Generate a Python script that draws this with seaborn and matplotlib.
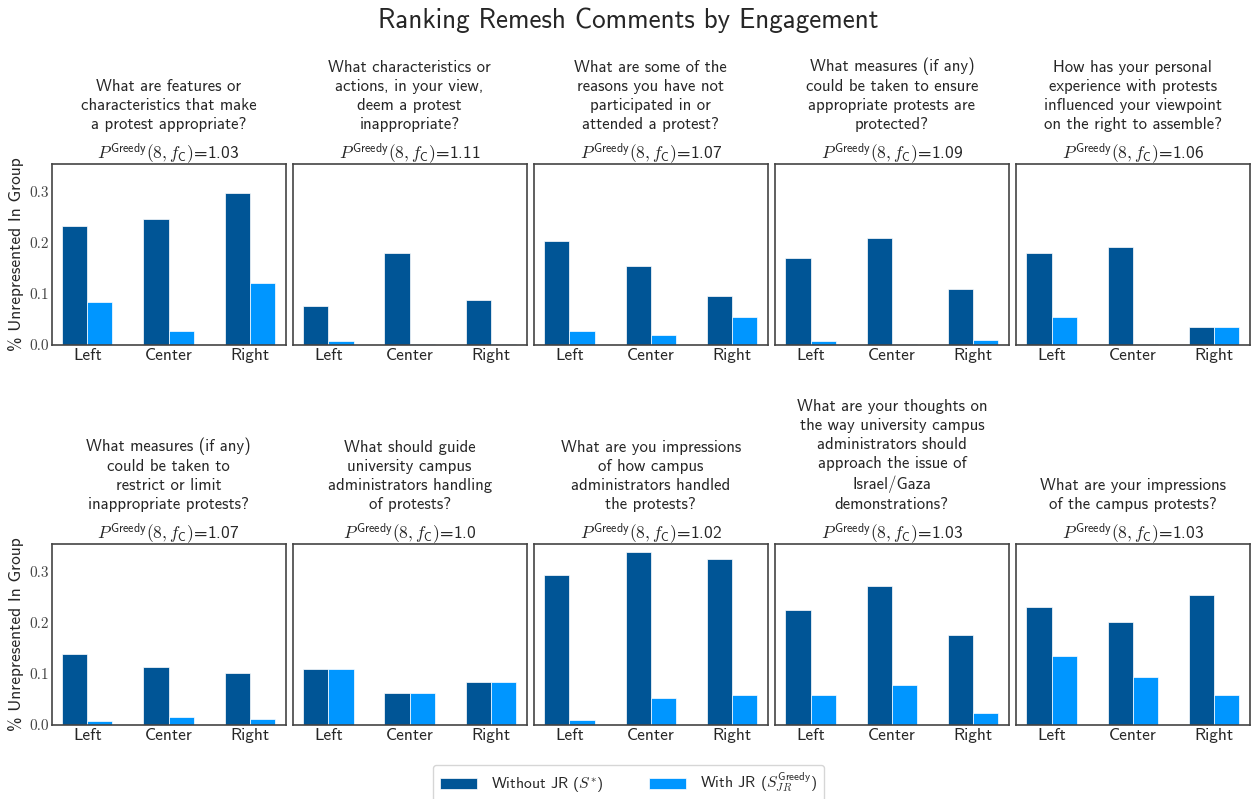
import numpy as np
import pandas as pd
import matplotlib
matplotlib.use("Agg")
import matplotlib.pyplot as plt
import seaborn as sns

sns.set_theme(style="white")
plt.rcParams['font.family'] = ['cmss10', 'DejaVu Sans']
plt.rcParams['mathtext.fontset'] = 'cm'
plt.rcParams['axes.unicode_minus'] = False

# data
categories = ['Left', 'Center', 'Right']
series_names = ['Without JR ($S^{*}$)', r'With JR ($S_{JR}^{\mathsf{Greedy}}$)']
questions = [
    "What are features or\ncharacteristics that make\na protest appropriate?",
    "What characteristics or\nactions, in your view,\ndeem a protest\ninappropriate?",
    "What are some of the\nreasons you have not\nparticipated in or\nattended a protest?",
    "What measures (if any)\ncould be taken to ensure\nappropriate protests are\nprotected?",
    "How has your personal\nexperience with protests\ninfluenced your viewpoint\non the right to assemble?",
    "What measures (if any)\ncould be taken to\nrestrict or limit\ninappropriate protests?",
    "What should guide\nuniversity campus\nadministrators handling\nof protests?",
    "What are you impressions\nof how campus\nadministrators handled\nthe protests?",
    "What are your thoughts on\nthe way university campus\nadministrators should\napproach the issue of\nIsrael/Gaza\ndemonstrations?",
    "What are your impressions\nof the campus protests?",
]
p_greedy = ['1.03', '1.11', '1.07', '1.09', '1.06', '1.07', '1.0', '1.02', '1.03', '1.03']
without_jr = [
    [0.232, 0.245, 0.296],
    [0.076, 0.180, 0.088],
    [0.202, 0.155, 0.096],
    [0.169, 0.208, 0.110],
    [0.180, 0.192, 0.035],
    [0.139, 0.114, 0.102],
    [0.110, 0.063, 0.084],
    [0.292, 0.337, 0.324],
    [0.224, 0.271, 0.176],
    [0.231, 0.200, 0.253],
]
with_jr = [
    [0.084, 0.028, 0.120],
    [0.008, 0.001, 0.001],
    [0.027, 0.020, 0.055],
    [0.008, 0.001, 0.010],
    [0.055, 0.001, 0.035],
    [0.008, 0.016, 0.012],
    [0.110, 0.063, 0.084],
    [0.010, 0.053, 0.059],
    [0.059, 0.078, 0.024],
    [0.135, 0.094, 0.059],
]
yticks = [0.0, 0.1, 0.2, 0.3]
colors = {series_names[0]: '#005596', series_names[1]: '#0096FF'}

fig, axes = plt.subplots(2, 5, figsize=(12.57, 7.99), dpi=100, sharey=True)
fig.subplots_adjust(left=0.041, right=0.9944, top=0.7947, bottom=0.0926,
                    wspace=0.03, hspace=1.10)

for i, ax in enumerate(axes.flat):
    df = pd.DataFrame({
        'group': categories * 2,
        'value': without_jr[i] + with_jr[i],
        'series': [series_names[0]] * 3 + [series_names[1]] * 3,
    })
    sns.barplot(data=df, x='group', y='value', hue='series', order=categories,
                hue_order=series_names, palette=colors, width=0.62, saturation=1,
                edgecolor='white', linewidth=0.5, ax=ax)
    ax.legend_.remove()
    ax.set_xlim(-0.44, 2.44)
    ax.set_ylim(0, 0.353)
    ax.set_xlabel('')
    ax.set_ylabel('')
    ax.tick_params(axis='x', labelsize=12.5, pad=2.5, length=0)
    ax.tick_params(axis='y', labelsize=11, pad=2, length=0)
    for s in ax.spines.values():
        s.set_color('#444444')
        s.set_linewidth(1.2)
    # P^Greedy line as the title, question text stacked above it
    ax.set_title(r'$P^{\mathsf{Greedy}}(8, f_{\mathsf{C}})$=' + p_greedy[i],
                 fontsize=12.5, pad=4)
    ax.annotate(questions[i], xy=(0.5, 1.0), xycoords='axes fraction',
                xytext=(0, 23), textcoords='offset points', ha='center',
                va='bottom', fontsize=12, linespacing=1.33)

for ax in axes[:, 0]:
    ax.set_yticks(yticks)
    ax.set_yticklabels([f'{t:.1f}' for t in yticks], fontfamily='cmr10', color='#444444')
    ax.set_ylabel('% Unrepresented In Group', fontsize=12.5, labelpad=4)

fig.suptitle('Ranking Remesh Comments by Engagement', fontsize=19.5, y=0.99)

handles, labels = axes[0, 0].get_legend_handles_labels()
fig.legend(handles, labels, loc='upper center', bbox_to_anchor=(0.5, 0.0426),
           borderaxespad=0, ncol=2, fontsize=11.3, handlelength=2.36,
           handletextpad=0.9, columnspacing=2.9,
           frameon=True, edgecolor='#cccccc')

plt.savefig('out.png', dpi=100)
